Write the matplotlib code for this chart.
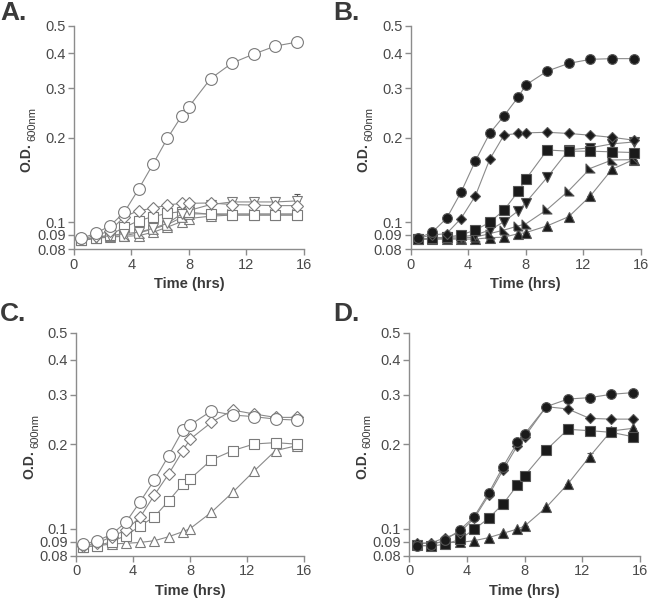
import matplotlib
matplotlib.use("Agg")
from matplotlib import pyplot as plt
from matplotlib.ticker import FixedLocator, NullLocator

plt.rcParams['font.family'] = ['Liberation Sans', 'DejaVu Sans']

# sampling times (hrs), shared by all panels
time = [0.5, 1.5, 2.5, 3.5, 4.5, 5.5, 6.5, 7.5, 8, 9.5, 11, 12.5, 14, 15.5]

# panel A (open symbols)
a_circle = [0.0875, 0.0912, 0.0969, 0.1084, 0.1312, 0.161, 0.199, 0.2395, 0.258, 0.3245, 0.369, 0.397, 0.424, 0.438]
a_diamond = [0.087, 0.0895, 0.093, 0.1046, 0.1099, 0.112, 0.1151, 0.1167, 0.1167, 0.117, 0.1155, 0.115, 0.1145, 0.1145]
a_square = [0.086, 0.088, 0.090, 0.0958, 0.1012, 0.1046, 0.1075, 0.109, 0.1085, 0.1066, 0.106, 0.106, 0.106, 0.106]
a_down = [0.086, 0.088, 0.0895, 0.091, 0.092, 0.095, 0.099, 0.107, 0.110, 0.1155, 0.118, 0.118, 0.118, 0.119]
a_down_err = [0, 0, 0, 0, 0, 0, 0, 0, 0, 0, 0.004, 0.004, 0.005, 0.007]
a_right = [0.086, 0.088, 0.089, 0.0895, 0.0915, 0.0945, 0.098, 0.104, 0.107, 0.107, 0.107, 0.107, 0.107, 0.107]
a_up = [0.086, 0.0875, 0.0885, 0.089, 0.0895, 0.092, 0.096, 0.1005, 0.103, 0.105, 0.106, 0.106, 0.106, 0.106]

# panel B (filled symbols)
b_circle = [0.0876, 0.092, 0.1032, 0.1277, 0.1652, 0.2073, 0.2395, 0.280, 0.308, 0.3455, 0.368, 0.3803, 0.3825, 0.3825]
b_diamond = [0.0876, 0.090, 0.091, 0.103, 0.124, 0.1675, 0.2045, 0.207, 0.208, 0.209, 0.207, 0.204, 0.2005, 0.196]
b_square = [0.0868, 0.0876, 0.0884, 0.090, 0.0937, 0.0998, 0.1105, 0.129, 0.142, 0.1807, 0.179, 0.179, 0.178, 0.177]
b_down = [0.0868, 0.0876, 0.0884, 0.0886, 0.090, 0.0937, 0.1004, 0.1099, 0.1173, 0.1445, 0.181, 0.184, 0.190, 0.193]
b_right = [0.087, 0.087, 0.0875, 0.0878, 0.0884, 0.091, 0.0937, 0.097, 0.0985, 0.111, 0.1295, 0.1555, 0.1665, 0.167]
b_up = [0.087, 0.087, 0.087, 0.087, 0.087, 0.088, 0.0884, 0.091, 0.0917, 0.097, 0.1046, 0.124, 0.1542, 0.167]
b_up_err = [0, 0, 0, 0, 0, 0, 0, 0, 0, 0, 0, 0, 0.006, 0]

# panel C (open symbols)
c_circle = [0.0881, 0.0907, 0.0956, 0.1055, 0.125, 0.1492, 0.1822, 0.225, 0.2344, 0.263, 0.2544, 0.251, 0.246, 0.244]
c_circle_err = [0, 0, 0, 0, 0, 0, 0, 0, 0, 0, 0, 0, 0, 0.01]
c_diamond = [0.087, 0.089, 0.0937, 0.099, 0.110, 0.132, 0.1568, 0.190, 0.2085, 0.2395, 0.265, 0.2565, 0.2495, 0.2495]
c_square = [0.0864, 0.0869, 0.090, 0.0946, 0.1023, 0.1105, 0.1257, 0.1445, 0.1505, 0.176, 0.190, 0.2006, 0.2028, 0.2003]
c_up = [0.0864, 0.087, 0.0883, 0.0888, 0.0894, 0.0907, 0.0937, 0.0977, 0.1001, 0.1145, 0.135, 0.1607, 0.190, 0.1978]

# panel D (filled symbols)
d_circle = [0.0868, 0.0874, 0.0912, 0.099, 0.1105, 0.1338, 0.1665, 0.2033, 0.2177, 0.2725, 0.290, 0.2934, 0.3015, 0.3057]
d_diamond = [0.089, 0.089, 0.093, 0.097, 0.109, 0.1315, 0.162, 0.198, 0.213, 0.2725, 0.2673, 0.2475, 0.246, 0.246]
d_square = [0.0874, 0.0868, 0.0881, 0.0917, 0.0996, 0.109, 0.1226, 0.1432, 0.1547, 0.191, 0.2262, 0.2238, 0.2207, 0.213]
d_up = [0.088, 0.0893, 0.0894, 0.0894, 0.0907, 0.093, 0.0964, 0.0998, 0.1023, 0.1193, 0.1445, 0.1807, 0.2232, 0.228]
d_up_err = [0, 0, 0, 0, 0, 0, 0, 0, 0, 0, 0, 0.006, 0, 0]

y_ticks = [0.08, 0.09, 0.1, 0.2, 0.3, 0.4, 0.5]
y_labels = ['0.08', '0.09', '0.1', '0.2', '0.3', '0.4', '0.5']
x_ticks = [0, 4, 8, 12, 16]

RIGHT_TRI = [(-1, -1), (1, -1), (-1, 1), (-1, -1)]
LINE = '#8a8a8a'
AXIS = '#8c8c8c'
TEXT = '#3a3a3a'


def style_axes(ax):
    ax.set_yscale('log')
    ax.set_xlim(0, 16)
    ax.set_ylim(0.08, 0.5)
    ax.yaxis.set_major_locator(FixedLocator(y_ticks))
    ax.yaxis.set_minor_locator(NullLocator())
    ax.set_yticklabels(y_labels)
    ax.set_xticks(x_ticks)
    for s in ['top', 'right']:
        ax.spines[s].set_visible(False)
    for s in ['left', 'bottom']:
        ax.spines[s].set_color(AXIS)
        ax.spines[s].set_linewidth(1.0)
    ax.tick_params(direction='out', length=4, width=1.0, color=AXIS,
                   labelsize=10.5, labelcolor='#4a4a4a', pad=2)
    ax.set_xlabel('Time (hrs)', fontsize=10.5, fontweight='bold', color=TEXT, labelpad=4)
    # y label: bold "O.D." with a plain subscript
    ax.text(-0.205, 0.41, 'O.D.', transform=ax.transAxes, rotation=90,
            ha='center', va='center', fontsize=10, fontweight='bold', color=TEXT)
    ax.text(-0.18, 0.56, '600nm', transform=ax.transAxes, rotation=90,
            ha='center', va='center', fontsize=8, color=TEXT)


def draw(ax, y, marker, filled, ms, err=None, err_up=True):
    face = '#1a1a1a' if filled else 'white'
    edge = '#555555' if filled else '#7a7a7a'
    if err is not None:
        zeros = [0] * len(err)
        yerr = [zeros, err] if err_up else [err, zeros]
        ax.errorbar(time, y, yerr=yerr, fmt='none', ecolor='#555555',
                    elinewidth=0.8, capsize=2.5, capthick=0.8, clip_on=False, zorder=2)
    ax.plot(time, y, color=LINE, lw=0.8, marker=marker, ms=ms,
            mfc=face, mec=edge, mew=0.8, clip_on=False, zorder=3)


fig = plt.figure(figsize=(6.5, 5.99), dpi=100)
axA = fig.add_axes([0.1138, 0.5838, 0.3539, 0.3728])
axB = fig.add_axes([0.6318, 0.5838, 0.3539, 0.3728])
axC = fig.add_axes([0.1170, 0.0718, 0.3507, 0.3728])
axD = fig.add_axes([0.6297, 0.0718, 0.3549, 0.3728])

for ax in [axA, axB, axC, axD]:
    style_axes(ax)

# A
draw(axA, a_up, '^', False, 7.5)
draw(axA, a_right, RIGHT_TRI, False, 7)
draw(axA, a_square, 's', False, 7.5)
draw(axA, a_down, 'v', False, 7.5, err=a_down_err)
draw(axA, a_diamond, 'D', False, 6.5)
draw(axA, a_circle, 'o', False, 8.5)

# B
draw(axB, b_up, '^', True, 6.5, err=b_up_err, err_up=False)
draw(axB, b_right, RIGHT_TRI, True, 6.5)
draw(axB, b_down, 'v', True, 6.5)
draw(axB, b_square, 's', True, 6.5)
draw(axB, b_diamond, 'D', True, 5)
draw(axB, b_circle, 'o', True, 7)

# C
draw(axC, c_up, '^', False, 7.5)
draw(axC, c_square, 's', False, 7.5)
draw(axC, c_diamond, 'D', False, 6.5)
draw(axC, c_circle, 'o', False, 8.5, err=c_circle_err, err_up=False)

# D
draw(axD, d_up, '^', True, 6.5, err=d_up_err)
draw(axD, d_square, 's', True, 6.5)
draw(axD, d_diamond, 'D', True, 5)
draw(axD, d_circle, 'o', True, 7)

for label, x, y in [('A.', 0.0, 0.998), ('B.', 0.513, 0.998),
                    ('C.', 0.0, 0.495), ('D.', 0.513, 0.495)]:
    fig.text(x, y, label, fontsize=19, fontweight='bold', color=TEXT,
             ha='left', va='top')

fig.savefig('out.png', dpi=100)
